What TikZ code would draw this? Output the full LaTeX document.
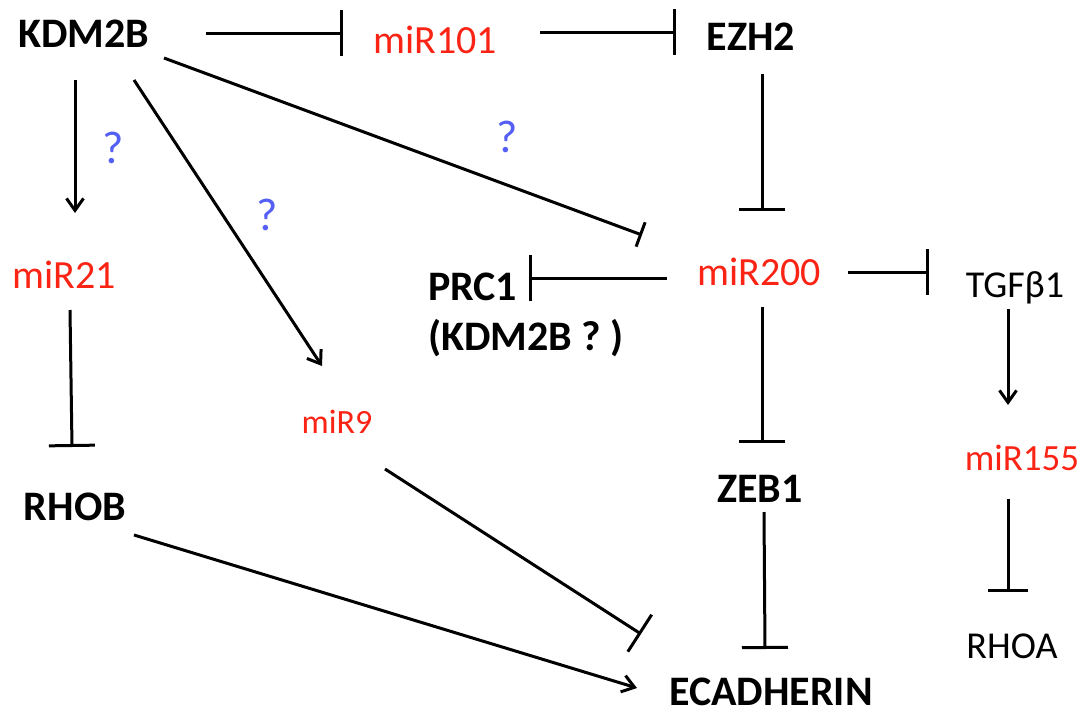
\documentclass[tikz,border=0pt]{standalone}
\usepackage{fontspec}
\setmainfont{Carlito}
\usetikzlibrary{arrows.meta,calc}
\definecolor{mred}{RGB}{250,35,20}
\definecolor{mblue}{RGB}{85,95,245}
\begin{document}
\begin{tikzpicture}[x=1pt,y=-1pt,
  lbl/.style={inner sep=0pt, outer sep=0pt, anchor=base, font=\fontsize{40}{48}\selectfont},
  gene/.style={lbl, font=\fontsize{42}{50}\selectfont\bfseries},
  mir/.style={lbl, text=mred},
  qm/.style={lbl, text=mblue, font=\fontsize{46}{54}\selectfont},
  conn/.style={line width=3pt, draw=black},
  act/.style={conn, -{Straight Barb[length=12pt,width=17pt]}},
  inh/.style={conn, -{Bar[width=46pt]}},
  inhs/.style={conn, -{Bar[width=26pt]}}]
\useasboundingbox[fill=white] (0,0) rectangle (1085,715);

% nodes
\node[gene] (kdm) at (84,47) {KDM2B};
\node[mir] (mir101) at (435,53) {miR101};
\node[gene] (ezh2) at (751,50) {EZH2};
\node[mir] (mir21) at (64,288) {miR21};
\node[mir, font=\fontsize{34}{40}\selectfont] (mir9) at (337,433) {miR9};
\node[gene, anchor=base west] (prc1) at (428,300) {PRC1};
\node[gene, anchor=base west] (prc1b) at (428,350) {(KDM2B ? )};
\node[mir] (mir200) at (759,285) {miR200};
\node[lbl, font=\fontsize{38}{46}\selectfont] (tgf) at (1015,297) {TGFβ1};
\node[mir, font=\fontsize{37}{44}\selectfont] (mir155) at (1022,470) {miR155};
\node[gene] (zeb1) at (760,502) {ZEB1};
\node[gene] (rhob) at (75,520) {RHOB};
\node[gene] (ecad) at (771,705) {ECADHERIN};
\node[lbl, font=\fontsize{38}{46}\selectfont] (rhoa) at (1012,658) {RHOA};
\node[qm] (q1) at (113,163) {?};
\node[qm] (q2) at (267,230) {?};
\node[qm] (q3) at (507,152) {?};

% connectors
\draw[inh] ($(kdm.base)+(122,-14)$) -- ($(mir101.base)+(-92,-20)$);
\draw[inh] ($(mir101.base)+(105,-21)$) -- ($(ezh2.base)+(-75,-18)$);
\draw[inh] ($(ezh2.base)+(11,24)$) -- ($(mir200.base)+(3,-74)$);
\draw[inh] ($(mir200.base)+(89,-13)$) -- ($(tgf.base)+(-86,-25)$);
\draw[act] ($(tgf.base)+(-7,12)$) -- ($(mir155.base)+(-14,-65)$);
\draw[inh, -{Bar[width=40pt]}] ($(mir155.base)+(-14,29)$) -- ($(rhoa.base)+(-4,-66)$);
\draw[inh] ($(mir200.base)+(3,22)$) -- ($(zeb1.base)+(2,-59)$);
\draw[inh] ($(zeb1.base)+(4,10)$) -- ($(ecad.base)+(-6,-56)$);
\draw[inh] ($(mir200.base)+(-92,-7)$) -- ($(prc1.base west)+(101,-22)$);
\draw[inhs] ($(kdm.base)+(80,11)$) -- ($(mir200.base)+(-117,-50)$);
\draw[act] ($(kdm.base)+(-9,33)$) -- ($(mir21.base)+(11,-75)$);
\draw[act] ($(kdm.base)+(50,33)$) -- ($(mir9.base)+(-15,-67)$);
\draw[inh] ($(mir21.base)+(6,22)$) -- ($(rhob.base)+(-3,-73)$);
\draw[act] ($(rhob.base)+(59,15)$) -- ($(ecad.base)+(-134,-17)$);
\draw[inh, -{Bar[width=44pt]}] ($(mir9.base)+(48,36)$) -- ($(ecad.base)+(-130,-71)$);
\end{tikzpicture}
\end{document}
